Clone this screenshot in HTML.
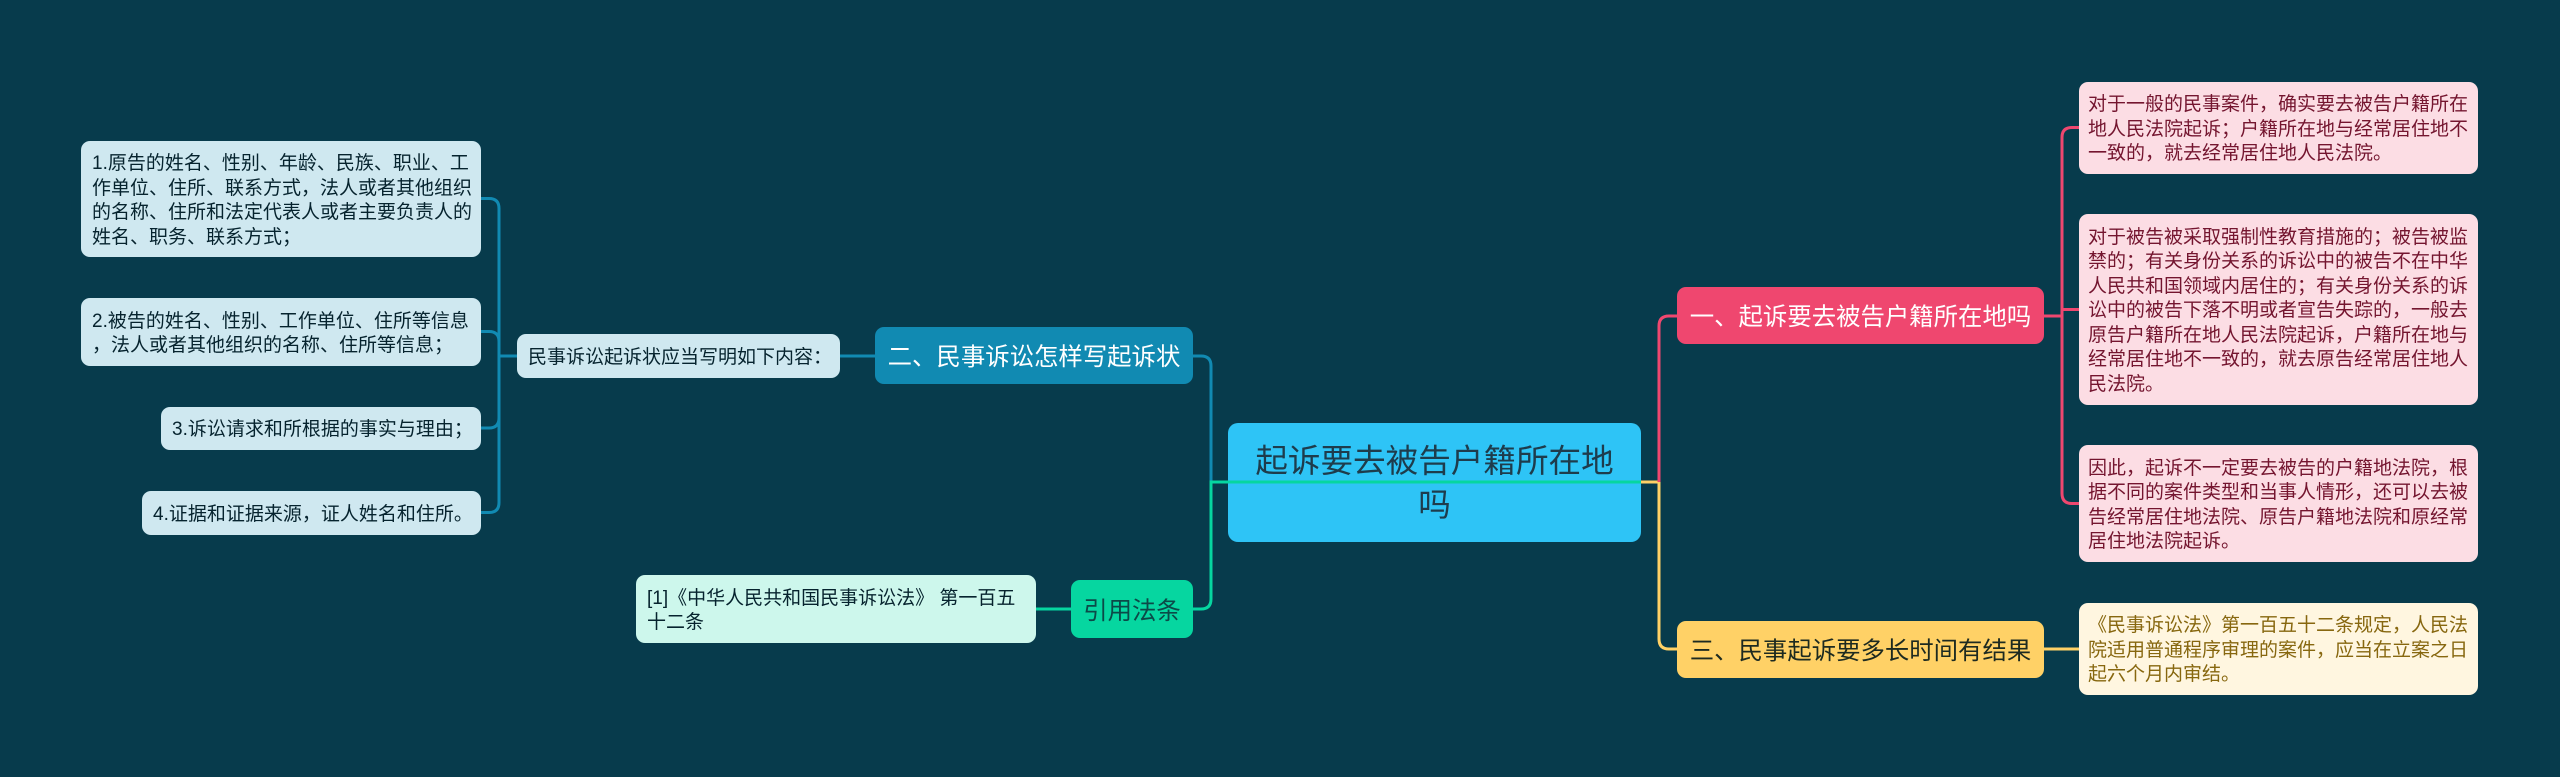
<!DOCTYPE html>
<html><head><meta charset="utf-8">
<style>
html,body{margin:0;padding:0;width:2560px;height:777px;overflow:hidden;background:#073b4c}
.b{position:absolute;box-sizing:border-box;display:flex;align-items:center;font-family:"Liberation Sans","Noto Sans CJK SC",sans-serif;white-space:nowrap;overflow:visible}
.c{font-size:19px;line-height:24.5px;border-radius:9px;padding-left:11px;padding-top:4px}
.n{font-size:24.4px;border-radius:9px;justify-content:center}
svg{position:absolute;left:0;top:0;z-index:2}
.p{background:#fcdde4;color:#74152f}
.y{background:#fff6e0;color:#87670f}
.l{background:#cfe8f0;color:#06232e}
.g{background:#cdf7ec;color:#06232e}
</style></head>
<body>
<div class="b" style="left:1228px;top:423px;width:413px;height:119px;background:#2ec4f6;color:#1e3c4c;font-size:32.6px;line-height:44px;border-radius:10px;text-align:center;justify-content:center"><div>起诉要去被告户籍所在地<br>吗</div></div>

<div class="b n" style="left:875px;top:327px;width:318px;height:57px;background:#118ab2;color:#fff">二、民事诉讼怎样写起诉状</div>
<div class="b n" style="left:1071px;top:580px;width:122px;height:58px;background:#06d6a0;color:#0c4a48">引用法条</div>
<div class="b n" style="left:1677px;top:287px;width:367px;height:57px;background:#ef476f;color:#fff">一、起诉要去被告户籍所在地吗</div>
<div class="b n" style="left:1677px;top:621px;width:367px;height:57px;background:#ffd166;color:#1d2a20">三、民事起诉要多长时间有结果</div>

<div class="b c l" style="left:81px;top:141px;width:400px;height:116px"><div>1.原告的姓名、性别、年龄、民族、职业、工<br>作单位、住所、联系方式，法人或者其他组织<br>的名称、住所和法定代表人或者主要负责人的<br>姓名、职务、联系方式；</div></div>
<div class="b c l" style="left:81px;top:298px;width:400px;height:68px"><div>2.被告的姓名、性别、工作单位、住所等信息<br>，法人或者其他组织的名称、住所等信息；</div></div>
<div class="b c l" style="left:161px;top:407px;width:320px;height:43px"><div>3.诉讼请求和所根据的事实与理由；</div></div>
<div class="b c l" style="left:142px;top:491px;width:339px;height:44px"><div>4.证据和证据来源，证人姓名和住所。</div></div>
<div class="b c l" style="left:517px;top:334px;width:323px;height:44px"><div>民事诉讼起诉状应当写明如下内容：</div></div>
<div class="b c g" style="left:636px;top:575px;width:400px;height:68px"><div>[1]《中华人民共和国民事诉讼法》 第一百五<br>十二条</div></div>

<div class="b c p" style="left:2079px;top:82px;width:399px;height:92px;padding-left:9px"><div>对于一般的民事案件，确实要去被告户籍所在<br>地人民法院起诉；户籍所在地与经常居住地不<br>一致的，就去经常居住地人民法院。</div></div>
<div class="b c p" style="left:2079px;top:214px;width:399px;height:191px;padding-left:9px"><div>对于被告被采取强制性教育措施的；被告被监<br>禁的；有关身份关系的诉讼中的被告不在中华<br>人民共和国领域内居住的；有关身份关系的诉<br>讼中的被告下落不明或者宣告失踪的，一般去<br>原告户籍所在地人民法院起诉，户籍所在地与<br>经常居住地不一致的，就去原告经常居住地人<br>民法院。</div></div>
<div class="b c p" style="left:2079px;top:445px;width:399px;height:117px;padding-left:9px"><div>因此，起诉不一定要去被告的户籍地法院，根<br>据不同的案件类型和当事人情形，还可以去被<br>告经常居住地法院、原告户籍地法院和原经常<br>居住地法院起诉。</div></div>
<div class="b c y" style="left:2079px;top:603px;width:399px;height:92px;padding-left:9px"><div>《民事诉讼法》第一百五十二条规定，人民法<br>院适用普通程序审理的案件，应当在立案之日<br>起六个月内审结。</div></div>

<svg width="2560" height="777" viewBox="0 0 2560 777" fill="none" stroke-width="3">
<g stroke="#118ab2">
<path d="M481 198.5H489Q499 198.5 499 208.5V502.5Q499 512.5 489 512.5H481"/>
<path d="M481 331.5H489Q499 331.5 499 341.5V418Q499 428 489 428H481"/>
<path d="M499 356H517"/>
<path d="M840 356H875"/>
<path d="M1193 356H1201Q1211 356 1211 366V482"/>
</g>
<g stroke="#ffd166">
<path d="M1641 482H1659V639Q1659 649 1669 649H1677"/>
<path d="M2044 649H2079"/>
</g>
<g stroke="#ef476f">
<path d="M1659 482V326Q1659 316 1669 316H1677"/>
<path d="M2044 316H2062"/>
<path d="M2079 127.5H2072Q2062 127.5 2062 137.5V493.5Q2062 503.5 2072 503.5H2079"/>
<path d="M2062 309.5H2079"/>
</g>
<g stroke="#06d6a0">
<path d="M1641 482H1211V599Q1211 609 1201 609H1193"/>
<path d="M1036 609H1071"/>
</g>
</svg>
</body></html>
